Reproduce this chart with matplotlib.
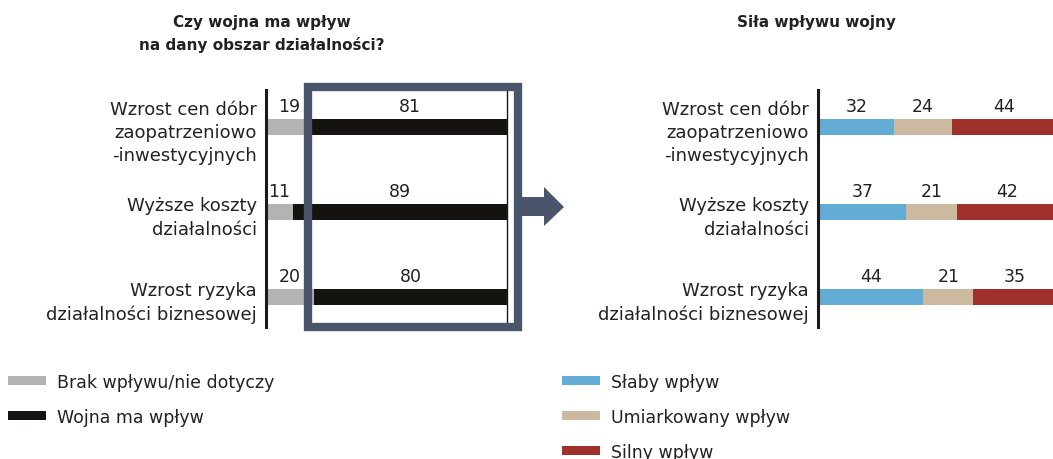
import matplotlib
matplotlib.use("Agg")
import matplotlib.pyplot as plt
from matplotlib.patches import Rectangle, Polygon

# data
categories = ["Wzrost cen dóbr\nzaopatrzeniowo\n-inwestycyjnych",
              "Wyższe koszty\ndziałalności",
              "Wzrost ryzyka\ndziałalności biznesowej"]
brak = [19, 11, 20]      # Brak wpływu/nie dotyczy
wojna = [81, 89, 80]     # Wojna ma wpływ
slaby = [32, 37, 44]
umiark = [24, 21, 21]
silny = [44, 42, 35]

plt.rcParams['font.family'] = ['DejaVu Sans']
txt = '#222222'
c_gray, c_black = '#b3b3b3', '#15130f'
c_blue, c_tan, c_red = '#62acd6', '#cbb9a0', '#a0302c'
c_box = '#4a546b'

W, H = 1053, 460
fig = plt.figure(figsize=(W / 100, H / 100), dpi=100)

def px(x0, y0, x1, y1):
    # pixel box -> figure fraction [left, bottom, width, height]
    return [x0 / W, 1 - y1 / H, (x1 - x0) / W, (y1 - y0) / H]

ax1 = fig.add_axes(px(266, 91, 507, 328))
ax2 = fig.add_axes(px(818, 91, 1057, 328))

ypos = list(range(len(categories)))
bh = 0.19

def stack(ax, series, colors, labels):
    left = [0] * len(ypos)
    handles = []
    for vals, col, lab in zip(series, colors, labels):
        b = ax.barh(ypos, vals, left=left, height=bh, color=col, label=lab)
        handles.append(b)
        for i, v in enumerate(vals):
            ax.annotate(str(v), (left[i] + v / 2, ypos[i]), xytext=(0, 15.5),
                        textcoords='offset points', ha='center', va='center',
                        fontsize=12.5, color=txt)
        left = [l + v for l, v in zip(left, vals)]
    return handles

h1 = stack(ax1, [brak, wojna], [c_gray, c_black],
           ["Brak wpływu/nie dotyczy", "Wojna ma wpływ"])
h2 = stack(ax2, [slaby, umiark, silny], [c_blue, c_tan, c_red],
           ["Słaby wpływ", "Umiarkowany wpływ", "Silny wpływ"])

for ax in (ax1, ax2):
    ax.set_xlim(0, 100)
    ax.set_ylim(2.35, -0.44)
    ax.set_yticks(ypos)
    ax.set_yticklabels(categories, fontsize=13, color=txt, linespacing=1.38)
    ax.tick_params(axis='y', length=0, pad=6.5)
    ax.set_xticks([])
    for s in ('top', 'right', 'bottom'):
        ax.spines[s].set_visible(False)
    ax.spines['left'].set_linewidth(2.2)
    ax.spines['left'].set_color('#1a1a1a')
    ax.patch.set_alpha(0)

ax1.spines['right'].set_visible(True)
ax1.spines['right'].set_linewidth(1)
ax1.spines['right'].set_color('#1a1a1a')

# titles
fig.text(262 / W, 1 - 34 / H, "Czy wojna ma wpływ\nna dany obszar działalności?",
         ha='center', va='center', fontsize=11, fontweight='bold', color=txt,
         linespacing=1.5)
fig.text(816 / W, 1 - 23 / H, "Siła wpływu wojny", ha='center', va='center',
         fontsize=11, fontweight='bold', color=txt)

# highlight box and arrow
fig.add_artist(Rectangle((308 / W, 1 - 328 / H), 210 / W, 240 / H,
                         transform=fig.transFigure, fill=False,
                         edgecolor=c_box, linewidth=6, zorder=5))
arrow = [(522, 198), (544, 198), (544, 188), (564, 208), (544, 227),
         (544, 217), (522, 217)]
fig.add_artist(Polygon([(x / W, 1 - y / H) for x, y in arrow], closed=True,
                       transform=fig.transFigure, facecolor=c_box,
                       edgecolor='none', zorder=5))

# legends
leg_kw = dict(loc='upper left', frameon=False, fontsize=12.5, borderpad=0,
              borderaxespad=0, handlelength=2.2, handleheight=0.42,
              handletextpad=0.6, labelspacing=0.98, labelcolor=txt)
fig.legend(handles=h1, bbox_to_anchor=(8 / W, 1 - 374 / H), **leg_kw)
fig.legend(handles=h2, bbox_to_anchor=(562 / W, 1 - 374 / H), **leg_kw)

fig.savefig("out.png", dpi=100)
